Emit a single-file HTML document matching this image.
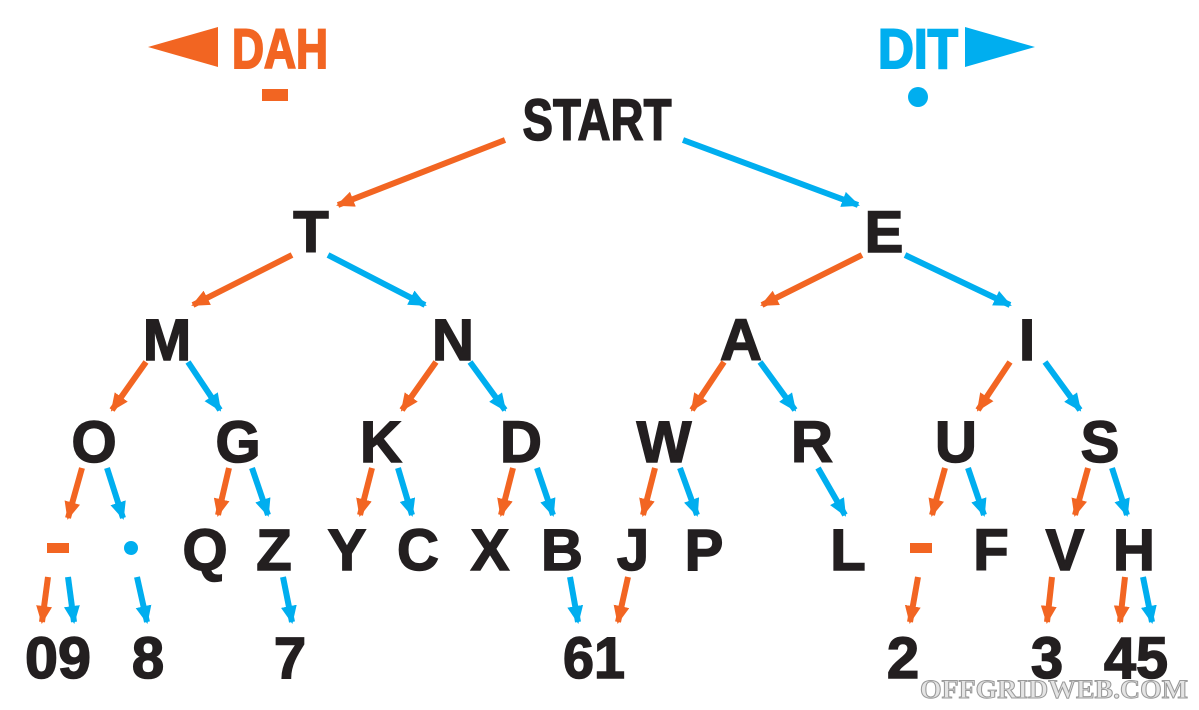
<!DOCTYPE html>
<html><head><meta charset="utf-8"><style>
html,body{margin:0;padding:0;background:#fff;}
svg{display:block;}
.t{font-family:"Liberation Sans Narrow","Liberation Sans",sans-serif;font-weight:bold;font-size:58px;fill:#231f20;stroke:#231f20;stroke-width:1.5;text-anchor:middle;}
</style></head><body>
<svg width="1199" height="710" viewBox="0 0 1199 710" xmlns="http://www.w3.org/2000/svg">
<defs>
<marker id="o" markerUnits="userSpaceOnUse" markerWidth="18" markerHeight="16" refX="16" refY="8" orient="auto"><path d="M0,0 L18,8 L0,16 Z" fill="#f26522"/></marker>
<marker id="b" markerUnits="userSpaceOnUse" markerWidth="18" markerHeight="16" refX="16" refY="8" orient="auto"><path d="M0,0 L18,8 L0,16 Z" fill="#00aeef"/></marker>
</defs>
<polygon points="148,47 218,27 218,67" fill="#f26522"/>
<text x="232" y="68" font-family="Liberation Sans Narrow,Liberation Sans,sans-serif" font-weight="bold" font-size="56" fill="#f26522" stroke="#f26522" stroke-width="2" textLength="96" lengthAdjust="spacingAndGlyphs">DAH</text>
<rect x="262" y="89" width="26" height="12" fill="#f26522"/>
<text x="878" y="68" font-family="Liberation Sans Narrow,Liberation Sans,sans-serif" font-weight="bold" font-size="56" fill="#00aeef" stroke="#00aeef" stroke-width="2" textLength="80" lengthAdjust="spacingAndGlyphs">DIT</text>
<polygon points="965,27 965,67 1035,47" fill="#00aeef"/>
<circle cx="918" cy="97" r="10" fill="#00aeef"/>
<g stroke-width="6" fill="none">
<g stroke="#f26522" marker-end="url(#o)">
<line x1="505" y1="140" x2="338" y2="205"/>
<line x1="292" y1="255" x2="193" y2="305"/>
<line x1="862" y1="255" x2="762" y2="305"/>
<line x1="146" y1="362" x2="112" y2="410"/>
<line x1="436" y1="362" x2="402" y2="410"/>
<line x1="724" y1="362" x2="692" y2="410"/>
<line x1="1010" y1="362" x2="978" y2="410"/>
<line x1="82" y1="468" x2="68" y2="518"/>
<line x1="229" y1="468" x2="218" y2="515"/>
<line x1="372" y1="468" x2="360" y2="515"/>
<line x1="513" y1="468" x2="501" y2="515"/>
<line x1="655" y1="468" x2="643" y2="515"/>
<line x1="945" y1="468" x2="932" y2="515"/>
<line x1="1088" y1="468" x2="1075" y2="515"/>
<line x1="48" y1="577" x2="42" y2="622"/>
<line x1="628" y1="577" x2="618" y2="622"/>
<line x1="918" y1="577" x2="910" y2="622"/>
<line x1="1052" y1="577" x2="1047" y2="622"/>
<line x1="1125" y1="577" x2="1120" y2="622"/>
</g>
<g stroke="#00aeef" marker-end="url(#b)">
<line x1="683" y1="140" x2="858" y2="205"/>
<line x1="328" y1="255" x2="425" y2="305"/>
<line x1="905" y1="255" x2="1010" y2="305"/>
<line x1="188" y1="362" x2="220" y2="410"/>
<line x1="470" y1="362" x2="505" y2="410"/>
<line x1="760" y1="362" x2="795" y2="410"/>
<line x1="1045" y1="362" x2="1080" y2="410"/>
<line x1="107" y1="468" x2="123" y2="518"/>
<line x1="252" y1="468" x2="268" y2="515"/>
<line x1="398" y1="468" x2="412" y2="515"/>
<line x1="537" y1="468" x2="553" y2="515"/>
<line x1="680" y1="468" x2="697" y2="515"/>
<line x1="818" y1="468" x2="845" y2="515"/>
<line x1="968" y1="468" x2="984" y2="515"/>
<line x1="1112" y1="468" x2="1127" y2="515"/>
<line x1="68" y1="577" x2="74" y2="622"/>
<line x1="137" y1="577" x2="147" y2="622"/>
<line x1="283" y1="577" x2="292" y2="622"/>
<line x1="570" y1="577" x2="578" y2="622"/>
<line x1="1143" y1="577" x2="1152" y2="622"/>
</g>
</g>
<text class="t" x="597" y="140" textLength="149" lengthAdjust="spacingAndGlyphs">START</text>
<text class="t" x="311" y="252">T</text>
<text class="t" x="884" y="252">E</text>
<text class="t" x="167" y="360">M</text>
<text class="t" x="453" y="360">N</text>
<text class="t" x="741" y="360">A</text>
<text class="t" x="1027" y="360">I</text>
<text class="t" x="94" y="462">O</text>
<text class="t" x="238" y="462">G</text>
<text class="t" x="381" y="462">K</text>
<text class="t" x="521" y="462">D</text>
<text class="t" x="664" y="462">W</text>
<text class="t" x="812" y="462">R</text>
<text class="t" x="956" y="462">U</text>
<text class="t" x="1100" y="462">S</text>
<rect x="47" y="543" width="22" height="10" fill="#f26522"/>
<circle cx="131" cy="548" r="7" fill="#00aeef"/>
<text class="t" x="205" y="570">Q</text>
<text class="t" x="274" y="570">Z</text>
<text class="t" x="347" y="570">Y</text>
<text class="t" x="418" y="570">C</text>
<text class="t" x="490" y="570">X</text>
<text class="t" x="562" y="570">B</text>
<text class="t" x="633" y="570">J</text>
<text class="t" x="704" y="570">P</text>
<text class="t" x="848" y="570">L</text>
<rect x="910" y="543" width="22" height="10" fill="#f26522"/>
<text class="t" x="991" y="570">F</text>
<text class="t" x="1065" y="570">V</text>
<text class="t" x="1134" y="570">H</text>
<text class="t" x="58" y="678" textLength="66" lengthAdjust="spacingAndGlyphs">09</text>
<text class="t" x="148" y="678">8</text>
<text class="t" x="290" y="678">7</text>
<text class="t" x="594" y="678" textLength="62" lengthAdjust="spacingAndGlyphs">61</text>
<text class="t" x="903" y="678">2</text>
<text class="t" x="1047" y="678">3</text>
<text class="t" x="1136" y="678" textLength="64" lengthAdjust="spacingAndGlyphs">45</text>
<text x="1188" y="698" text-anchor="end" font-family="Liberation Serif,serif" font-weight="bold" font-size="26" fill="#e4e4e4" stroke="#9a9a9a" stroke-width="1" textLength="268" lengthAdjust="spacingAndGlyphs">OFFGRIDWEB.COM</text>
</svg>
</body></html>
